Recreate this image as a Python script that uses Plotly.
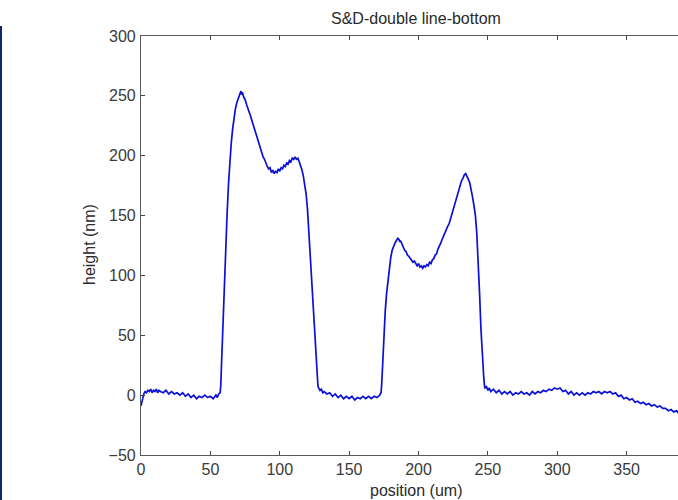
import plotly.graph_objects as go

position_um = [
    0, 0.5, 1, 2, 3, 4, 5, 6, 7, 8, 9, 10, 11, 12, 13, 14, 16, 18, 20, 22, 24, 26, 28, 30,
    32, 34, 36, 38, 40, 42, 44, 46, 48, 50, 52, 54, 55, 56, 57,
    57.5, 58, 59, 60, 60.5, 61, 62, 63, 64, 65, 66, 67, 68, 69, 70, 71, 72, 72.5, 73,
    74, 75, 76, 77, 78, 79, 80, 81, 82, 83, 84, 85, 86, 87, 88, 89, 90, 91, 92, 93, 94,
    95, 96, 97, 98, 99, 100, 101, 102, 103, 104, 105, 106, 107, 108, 109, 110, 111, 112,
    113, 114, 115, 116, 117, 118, 119, 120, 121, 122, 123, 124, 125, 126, 127, 127.5,
    128, 129, 130, 131, 132, 134, 136, 138, 140, 142, 144, 146, 148, 150, 152, 154, 156,
    158, 160, 162, 164, 166, 168, 170, 172, 173,
    173.5, 174, 175, 176, 177, 178, 179, 180, 181, 182, 183, 184, 185, 186, 186.5, 187,
    188, 189, 190, 191, 192, 193, 194, 195, 196, 197, 198, 199, 200, 201, 202, 203, 204,
    205, 206, 207, 208, 209, 210, 211, 212, 213, 214, 215, 216, 217, 218, 219, 220, 221,
    222, 223, 224, 225, 226, 227, 228, 229, 230, 231, 232, 233, 234, 235, 236, 237, 238,
    239, 240, 241, 242, 243, 244, 245, 246, 247, 247.5,
    248, 249, 250, 251, 252, 254, 256, 258, 260, 262, 264, 266, 268, 270, 272, 274, 276,
    278, 280, 282, 284, 286, 288, 290, 292, 294, 296, 298, 300, 302, 304, 306, 308, 310,
    312, 314, 316, 318, 320, 322, 324, 326, 328, 330, 332, 334, 336, 338, 340, 342, 344,
    346, 348, 350, 352, 354, 356, 358, 360, 362, 364, 366, 368, 370, 372, 374, 376, 378,
    380, 382, 384, 386, 388,
]

height_nm = [
    -9, -6, -3, 1, 3, 2, 4, 3, 5, 2, 4, 3, 5, 2, 4, 3, 2, 4, 1, 3, 1, 2, 0, 2,
    -1, 1, -2, 0, -3, -1, -2, 0, -2, -1, -3, 0, -2, 1, 2,
    8, 25, 60, 90, 100, 120, 150, 175, 196, 210, 222, 232, 239, 244, 248, 250, 254, 251, 253,
    249, 247, 243, 240, 236, 233, 229, 225, 221, 218, 213, 210, 206, 203, 199, 197, 193, 191, 189, 190, 186,
    188, 185, 187, 186, 189, 187, 190, 189, 192, 191, 194, 193, 196, 195, 198, 197, 199, 197,
    198, 195, 192, 188, 183, 177, 168, 155, 135, 115, 93, 70, 48, 30, 14, 8,
    6, 4, 5, 2, 3, 1, 2, -1, 1, -2, 0, -3, -1, -3, -1, -4, -2,
    -3, -1, -3, -1, -3, -1, -2, 0, 2,
    10, 25, 50, 70, 85, 96, 106, 115, 121, 125, 127, 129, 131, 130, 128, 129,
    126, 124, 121, 120, 117, 116, 114, 113, 111, 112, 110, 108, 110, 107, 108, 106, 108,
    107, 109, 108, 111, 110, 113, 114, 117, 118, 122, 124, 127, 130, 133, 136, 138, 141,
    143, 147, 150, 155, 158, 163, 167, 172, 175, 179, 181, 184, 185, 183, 180, 177, 172,
    165, 158, 150, 135, 113, 85, 55, 30, 15, 8,
    6, 7, 4, 6, 3, 5, 2, 4, 1, 3, 1, 3, 0, 2, 1, 3, 1,
    2, 0, 3, 1, 3, 2, 4, 3, 5, 4, 6, 5, 6, 3, 4, 1,
    3, 0, 2, 0, 2, 0, 2, 1, 3, 2, 3, 1, 3, 2, 3, 1, 2,
    -1, 0, -3, -2, -4, -3, -6, -5, -7, -6, -8, -7, -9, -8, -10, -9, -11, -11,
    -13, -12, -14, -13, -16,
]

x_ticks = [0, 50, 100, 150, 200, 250, 300, 350]
y_ticks = [-50, 0, 50, 100, 150, 200, 250, 300]

W, H = 678, 500
L, R, T, B = 141, 0, 36, 45
pw, ph = W - L - R, H - T - B

def px_x(p):
    return (p - L) / pw

def px_y(p):
    return (H - B - p) / ph

font = "Liberation Sans, Arial, sans-serif"

fig = go.Figure()
fig.add_trace(go.Scatter(
    x=position_um, y=height_nm, mode="lines",
    line=dict(color="#0a10d8", width=1.7),
    hoverinfo="skip", showlegend=False,
))

axis_common = dict(
    showgrid=False, zeroline=False, showline=True, linecolor="#5a5a5a", linewidth=1.2,
    ticks="inside", ticklen=4, tickcolor="#444444", tickwidth=1,
    tickfont=dict(family=font, size=16, color="#3a3a3a"),
)

fig.update_xaxes(range=[0, 387], tickvals=x_ticks, mirror="ticks",
                 ticklabelstandoff=0, **axis_common)
fig.update_yaxes(range=[-50, 300], tickvals=y_ticks, mirror=False,
                 ticklabelstandoff=1, **axis_common)

fig.update_layout(
    width=W, height=H,
    margin=dict(l=L, r=R, t=T, b=B, pad=0),
    plot_bgcolor="white", paper_bgcolor="white",
    annotations=[
        dict(text="S&D-double line-bottom", xref="paper", yref="paper",
             x=px_x(416), y=px_y(18), showarrow=False, xanchor="center", yanchor="middle",
             font=dict(family=font, size=16, color="#2a2a2a")),
        dict(text="position (um)", xref="paper", yref="paper",
             x=px_x(416), y=px_y(490), showarrow=False, xanchor="center", yanchor="middle",
             font=dict(family=font, size=16, color="#2a2a2a")),
        dict(text="height (nm)", xref="paper", yref="paper", textangle=-90,
             x=px_x(89), y=px_y(245), showarrow=False, xanchor="center", yanchor="middle",
             font=dict(family=font, size=16, color="#2a2a2a")),
    ],
    shapes=[
        dict(type="rect", xref="paper", yref="paper",
             x0=px_x(0), x1=px_x(2), y0=px_y(500), y1=px_y(26),
             fillcolor="#0c2a6b", line=dict(width=0), layer="above"),
    ],
)

fig.write_html("out.html", config={"displayModeBar": False},
               post_script="document.body.style.margin='0';")
